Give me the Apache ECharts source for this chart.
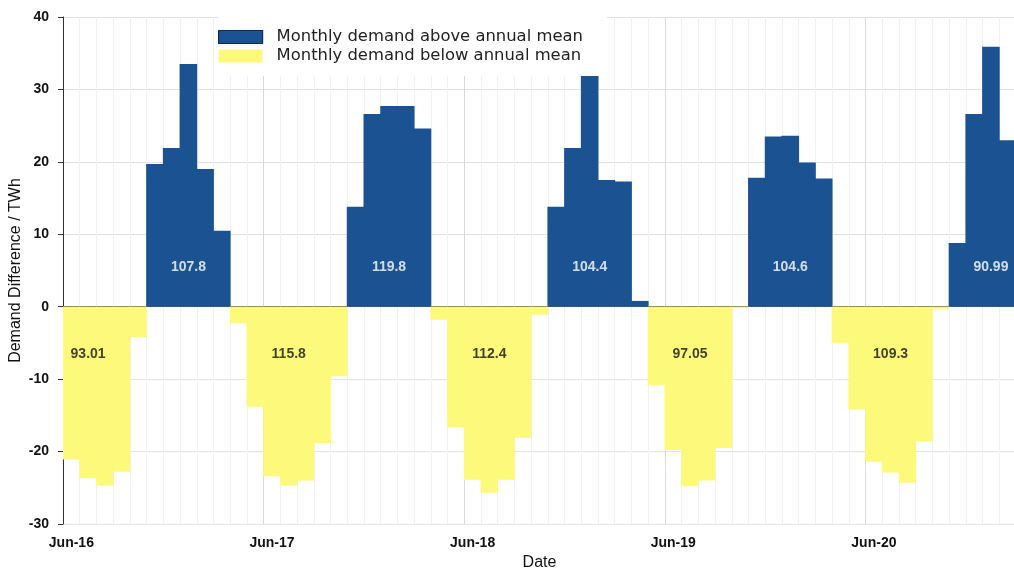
<!DOCTYPE html>
<html>
<head>
<meta charset="utf-8">
<script src="https://cdn.jsdelivr.net/npm/echarts@6/dist/echarts.min.js"></script>
<style>
  html, body { margin: 0; padding: 0; background: #fff; }
  #chart { width: 1014px; height: 569px; }
</style>
</head>
<body>
<div id="chart"></div>
<script>
// Months from Jun-16 to Feb-21
var months = [
  'Jun-16','Jul-16','Aug-16','Sep-16','Oct-16','Nov-16','Dec-16','Jan-17','Feb-17','Mar-17','Apr-17','May-17',
  'Jun-17','Jul-17','Aug-17','Sep-17','Oct-17','Nov-17','Dec-17','Jan-18','Feb-18','Mar-18','Apr-18','May-18',
  'Jun-18','Jul-18','Aug-18','Sep-18','Oct-18','Nov-18','Dec-18','Jan-19','Feb-19','Mar-19','Apr-19','May-19',
  'Jun-19','Jul-19','Aug-19','Sep-19','Oct-19','Nov-19','Dec-19','Jan-20','Feb-20','Mar-20','Apr-20','May-20',
  'Jun-20','Jul-20','Aug-20','Sep-20','Oct-20','Nov-20','Dec-20','Jan-21','Feb-21'
];

// Monthly demand difference from annual mean (TWh)
var demandDiff = [
  -21.1, -23.7, -24.7, -22.8, -4.2, 19.7, 21.9, 33.5, 19.0, 10.5, -2.3, -13.8,
  -23.4, -24.7, -24.0, -18.8, -9.6, 13.8, 26.6, 27.7, 27.7, 24.6, -1.8, -16.6,
  -23.9, -25.7, -23.9, -18.1, -1.1, 13.8, 21.9, 32.0, 17.5, 17.3, 0.8, -10.8,
  -19.8, -24.8, -24.0, -19.5, -0.2, 17.8, 23.5, 23.6, 19.9, 17.7, -5.0, -14.2,
  -21.4, -22.9, -24.3, -18.6, -0.3, 8.8, 26.6, 35.9, 23.0
];

// Group totals annotated on the chart
var aboveLabelMonths = ['Jan-17', 'Jan-18', 'Jan-19', 'Jan-20', 'Jan-21'];
var aboveLabelTexts  = ['107.8', '119.8', '104.4', '104.6', '90.99'];
var belowLabelMonths = ['Jul-16', 'Jul-17', 'Jul-18', 'Jul-19', 'Jul-20'];
var belowLabelTexts  = ['93.01', '115.8', '112.4', '97.05', '109.3'];

var yTicks = { min: -30, max: 40, interval: 10 };

var aboveData = demandDiff.map(function (v) { return v > 0 ? v : '-'; });
var belowData = demandDiff.map(function (v) { return v <= 0 ? v : '-'; });

var ABOVE_Y = 5.4, BELOW_Y = -6.6;
var aboveLabelData = aboveLabelMonths.map(function (m, i) { return { value: [m, ABOVE_Y], txt: aboveLabelTexts[i] }; });
var belowLabelData = belowLabelMonths.map(function (m, i) { return { value: [m, BELOW_Y], txt: belowLabelTexts[i] }; });

var splitColors = ['#d9d9d9'];
for (var k = 0; k < 11; k++) splitColors.push('#f1f1f1');

var BLUE = '#1b5292', YELLOW = '#fdf97b';

var chart = echarts.init(document.getElementById('chart'), null, { renderer: 'canvas' });
chart.setOption({
  animation: false,
  backgroundColor: '#ffffff',
  grid: { left: 63, top: 17, width: 953, height: 507, containLabel: false, outerBoundsMode: 'none' },
  legend: {
    data: [
      { name: 'Monthly demand above annual mean', itemStyle: { color: BLUE, borderColor: '#0b2d5c', borderWidth: 1.2 } },
      { name: 'Monthly demand below annual mean', itemStyle: { color: YELLOW, borderColor: YELLOW, borderWidth: 0 } }
    ],
    orient: 'vertical',
    left: 218,
    top: 17,
    padding: [12, 24, 12, 0],
    backgroundColor: '#ffffff',
    itemWidth: 44,
    itemHeight: 13,
    itemGap: 3,
    icon: 'rect',
    z: 20,
    textStyle: { fontFamily: 'DejaVu Sans', fontSize: 16.4, color: '#222', padding: [0, 0, 0, 9] }
  },
  xAxis: {
    type: 'category',
    data: months,
    boundaryGap: true,
    z: 0,
    name: 'Date',
    nameLocation: 'middle',
    nameGap: 29,
    nameTextStyle: { fontFamily: 'Liberation Sans', fontSize: 16, color: '#111' },
    axisLine: { show: true, lineStyle: { color: '#e0e0e0' } },
    axisTick: { show: false },
    axisLabel: {
      interval: function (idx) { return idx % 12 === 0; },
      fontFamily: 'Liberation Sans', fontSize: 14, fontWeight: 'bold', color: '#111', margin: 12
    },
    splitLine: { show: true, interval: 0, lineStyle: { color: splitColors, width: 1 } }
  },
  yAxis: {
    type: 'value',
    min: yTicks.min,
    max: yTicks.max,
    interval: yTicks.interval,
    z: 0,
    name: 'Demand Difference / TWh',
    nameLocation: 'middle',
    nameGap: 39,
    nameMoveOverlap: false,
    nameTextStyle: { fontFamily: 'Liberation Sans', fontSize: 16, color: '#111' },
    axisLine: { show: true, lineStyle: { color: '#333' } },
    axisTick: { show: true, length: 5, lineStyle: { color: '#333' } },
    axisLabel: { fontFamily: 'Liberation Sans', fontSize: 14, fontWeight: 'bold', color: '#111', margin: 14 },
    splitLine: { show: true, lineStyle: { color: '#e2e2e2' } }
  },
  series: [
    {
      name: 'Monthly demand above annual mean',
      type: 'bar',
      stack: 'demand',
      barWidth: 17.6,
      data: aboveData,
      itemStyle: { color: BLUE },
      markLine: {
        silent: true,
        symbol: 'none',
        label: { show: false },
        lineStyle: { color: '#6e6a55', type: 'solid', width: 1 },
        data: [{ yAxis: 0 }]
      },
      z: 10
    },
    {
      name: 'Monthly demand below annual mean',
      type: 'bar',
      stack: 'demand',
      barWidth: 17.6,
      data: belowData,
      itemStyle: { color: YELLOW },
      z: 10
    },
    {
      type: 'scatter',
      data: aboveLabelData,
      symbolSize: 1,
      itemStyle: { color: 'rgba(0,0,0,0)' },
      silent: true,
      z: 15,
      label: {
        show: true, position: 'inside',
        formatter: function (p) { return p.data.txt; },
        fontFamily: 'Liberation Sans', fontSize: 14, fontWeight: 'bold', color: '#ffffff'
      }
    },
    {
      type: 'scatter',
      data: belowLabelData,
      symbolSize: 1,
      itemStyle: { color: 'rgba(0,0,0,0)' },
      silent: true,
      z: 15,
      label: {
        show: true, position: 'inside',
        formatter: function (p) { return p.data.txt; },
        fontFamily: 'Liberation Sans', fontSize: 14, fontWeight: 'bold', color: '#111111'
      }
    }
  ]
});
</script>
</body>
</html>
